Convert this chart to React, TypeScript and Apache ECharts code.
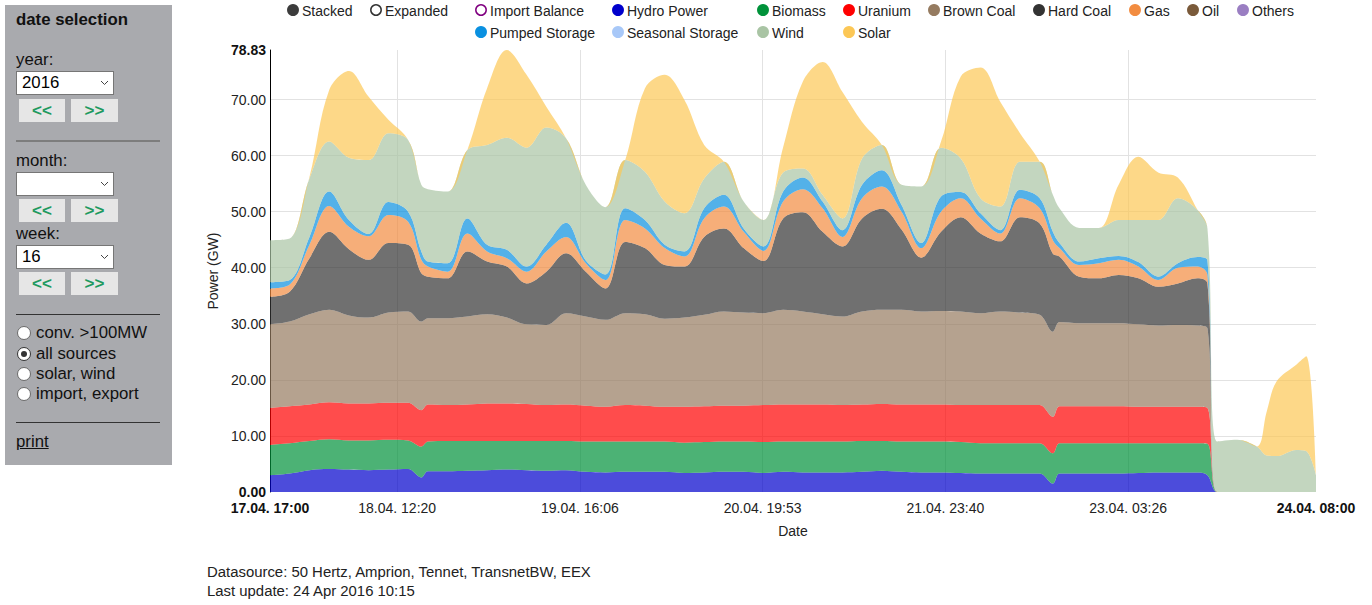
import React, { useEffect, useRef } from "react";
import * as echarts from "echarts";

const FONT = "'Liberation Sans', Arial, Helvetica, sans-serif";

// ---- data (hours after 17.04.2016 17:00) ----
const hours = [0, 3, 6, 9, 12, 15, 18, 21, 23, 24, 27, 30, 33, 36, 39, 42, 45, 48, 51, 54, 57, 60, 63, 66, 69, 72, 75, 78, 81, 84, 87, 90, 93, 96, 99, 102, 105, 108, 111, 114, 117, 119, 120, 123, 126, 129, 132, 135, 138, 141, 142.5, 144, 147, 150, 151.5, 153, 156, 157.5, 159];

const hydro = [3.0, 3.3, 3.9, 4.1, 4.0, 3.9, 4.0, 4.1, 2.6, 3.7, 3.7, 3.8, 3.9, 4.0, 3.9, 3.8, 3.9, 3.6, 3.5, 3.6, 3.6, 3.6, 3.4, 3.5, 3.6, 3.6, 3.4, 3.6, 3.5, 3.5, 3.5, 3.6, 3.8, 3.6, 3.5, 3.5, 3.4, 3.3, 3.3, 3.3, 3.3, 1.5, 3.3, 3.3, 3.3, 3.3, 3.4, 3.5, 3.5, 3.5, 3.0, 0, 0, 0, 0, 0, 0, 0, 0];
const biomass = [5.4, 5.4, 5.2, 5.3, 5.2, 5.3, 5.3, 5.1, 5.5, 5.3, 5.4, 5.3, 5.2, 5.1, 5.2, 5.3, 5.2, 5.4, 5.5, 5.4, 5.4, 5.4, 5.4, 5.4, 5.4, 5.4, 5.5, 5.4, 5.5, 5.5, 5.5, 5.5, 5.3, 5.4, 5.5, 5.5, 5.5, 5.4, 5.4, 5.4, 5.4, 5.4, 5.4, 5.4, 5.4, 5.4, 5.3, 5.2, 5.2, 5.2, 5.6, 0, 0, 0, 0, 0, 0, 0, 0];
const uranium = [6.6, 6.6, 6.5, 6.6, 6.6, 6.6, 6.6, 6.7, 6.5, 6.6, 6.4, 6.5, 6.7, 6.7, 6.6, 6.4, 6.5, 6.4, 6.2, 6.5, 6.4, 6.2, 6.4, 6.4, 6.4, 6.4, 6.6, 6.6, 6.6, 6.6, 6.5, 6.5, 6.6, 6.6, 6.6, 6.6, 6.6, 6.8, 6.8, 6.8, 6.8, 6.5, 6.6, 6.6, 6.6, 6.6, 6.5, 6.5, 6.5, 6.5, 6.4, 0, 0, 0, 0, 0, 0, 0, 0];
const brownCoal = [14.9, 15.1, 16.1, 16.5, 15.7, 15.3, 16.1, 16.3, 15.8, 15.4, 15.5, 15.7, 15.9, 15.3, 14.2, 14.3, 16.3, 15.9, 15.5, 16.4, 16.3, 15.7, 15.9, 16.3, 16.8, 16.6, 16.4, 16.9, 16.6, 16.1, 15.8, 16.6, 16.8, 16.9, 16.6, 16.7, 16.7, 16.4, 16.7, 16.5, 16.1, 15.2, 15.0, 14.8, 14.8, 14.8, 14.7, 14.5, 14.6, 14.5, 14.2, 0, 0, 0, 0, 0, 0, 0, 0];
const hardCoal = [4.9, 5.3, 10.0, 13.9, 11.8, 10.3, 12.4, 11.9, 8.6, 7.4, 7.1, 11.6, 9.4, 9.1, 7.3, 9.5, 10.7, 8.0, 5.6, 12.7, 11.8, 9.6, 9.1, 13.9, 14.8, 11.5, 9.3, 16.3, 17.7, 14.7, 12.5, 16.6, 18.0, 14.3, 9.6, 14.1, 16.8, 14.2, 12.5, 17.0, 16.3, 13.9, 11.7, 8.3, 8.0, 8.6, 8.2, 6.9, 7.4, 8.4, 8.0, 0, 0, 0, 0, 0, 0, 0, 0];
const gas = [1.5, 1.3, 2.4, 4.6, 4.0, 4.2, 5.0, 4.1, 2.4, 1.8, 1.2, 3.2, 1.8, 1.5, 2.1, 3.6, 2.9, 1.5, 1.5, 3.9, 3.5, 3.0, 1.8, 3.3, 3.9, 2.9, 1.8, 3.0, 4.1, 4.2, 1.7, 3.6, 4.0, 3.2, 1.7, 3.6, 3.4, 2.7, 1.4, 3.4, 2.7, 2.4, 1.5, 2.1, 2.7, 2.7, 2.1, 1.2, 2.8, 2.1, 1.5, 0, 0, 0, 0, 0, 0, 0, 0];
const pumpedStorage = [1.1, 0.8, 1.4, 2.6, 1.2, 0.4, 2.3, 1.8, 1.5, 0.9, 1.5, 2.7, 1.2, 1.5, 0.9, 1.2, 2.5, 0.5, 1.0, 2.1, 1.5, 0.6, 0.9, 1.8, 2.1, 0.6, 0.8, 1.8, 2.1, 1.2, 1.2, 2.4, 2.9, 1.2, 0.9, 2.7, 1.1, 0.9, 0.6, 1.5, 1.8, 1.5, 0.9, 0.6, 0.9, 0.7, 0.8, 0.6, 0.8, 1.7, 2.6, 0, 0, 0, 0, 0, 0, 0, 0];
const wind = [7.5, 7.4, 10.4, 8.9, 11.1, 13.2, 12.3, 12.8, 11.9, 12.9, 12.8, 12.2, 17.8, 20.0, 21.2, 20.9, 15.1, 13.5, 12.0, 8.6, 8.6, 7.7, 6.8, 5.3, 5.9, 4.8, 4.7, 3.4, 1.6, 1.2, 2.1, 4.7, 4.5, 3.6, 10.1, 8.7, 6.0, 2.7, 4.2, 5.0, 6.5, 6.6, 6.2, 6.0, 5.4, 6.4, 7.5, 10.1, 11.6, 8.4, 5.7, 9.0, 9.3, 8.1, 6.5, 6.4, 7.5, 7.3, 3.0];
const solar = [0, 0, 0.3, 9.2, 15.5, 11.3, 2.4, 0, 0, 0, 0, 0, 10.1, 15.63, 13.0, 3.7, 0, 0, 0, 0, 14.9, 22.6, 20.2, 6.0, 0, 0, 0, 4.5, 15.5, 23.7, 22.6, 6.5, 0, 0, 0, 1.1, 14.6, 23.3, 18.7, 5.1, 0, 0, 0, 0, 0, 6.3, 11.3, 8.5, 3.7, 0, 0, 0, 0, 0, 7.8, 13.3, 15.2, 16.9, 0];

const xTickHours = [0, 19.333, 47.1, 74.883, 102.667, 130.433, 159];
const xTickLabels = ["17.04. 17:00", "18.04. 12:20", "19.04. 16:06", "20.04. 19:53", "21.04. 23:40", "23.04. 03:26", "24.04. 08:00"];
const yTicks = [0, 10, 20, 30, 40, 50, 60, 70, 78.83];

const T0 = Date.UTC(2016, 3, 17, 17, 0);
const HOUR = 3600 * 1000;
const toTime = (h: number) => T0 + h * HOUR;

// ---- styles ----
const COLORS: Record<string, string> = {
  "Hydro Power": "#0000cc",
  Biomass: "#00923a",
  Uranium: "#ff0000",
  "Brown Coal": "#957b60",
  "Hard Coal": "#333333",
  Gas: "#f28c40",
  Oil: "#7a5a3a",
  Others: "#9a7ec2",
  "Pumped Storage": "#0a90e0",
  "Seasonal Storage": "#a8c8f8",
  Wind: "#a9c4a4",
  Solar: "#fcc756",
};

const seriesDefs: [string, number[]][] = [
  ["Hydro Power", hydro],
  ["Biomass", biomass],
  ["Uranium", uranium],
  ["Brown Coal", brownCoal],
  ["Hard Coal", hardCoal],
  ["Gas", gas],
  ["Pumped Storage", pumpedStorage],
  ["Wind", wind],
  ["Solar", solar],
];

type LegItem = { name: string; cx: number; cy: number; fill: string; stroke: string };
const legendItems: LegItem[] = [
  { name: "Stacked", cx: 293, cy: 10, fill: "#3c3c3c", stroke: "#3c3c3c" },
  { name: "Expanded", cx: 376, cy: 10, fill: "#ffffff", stroke: "#333333" },
  { name: "Import Balance", cx: 481, cy: 10, fill: "#ffffff", stroke: "#800080" },
  ...["Hydro Power", "Biomass", "Uranium", "Brown Coal", "Hard Coal", "Gas", "Oil", "Others"].map((n, i) => ({
    name: n,
    cx: [618, 763, 849, 934, 1039, 1135, 1193, 1243][i],
    cy: 10,
    fill: COLORS[n],
    stroke: COLORS[n],
  })),
  ...["Pumped Storage", "Seasonal Storage", "Wind", "Solar"].map((n, i) => ({
    name: n,
    cx: [481, 618, 763, 849][i],
    cy: 32,
    fill: COLORS[n],
    stroke: COLORS[n],
  })),
];

function nearestIdx(v: number) {
  let idx = 0;
  let best = Infinity;
  xTickHours.forEach((t, i) => {
    const d = Math.abs(t - v);
    if (d < best) {
      best = d;
      idx = i;
    }
  });
  return idx;
}

function Chart() {
  const ref = useRef<HTMLDivElement>(null);
  useEffect(() => {
    if (!ref.current) return;
    const chart = echarts.init(ref.current, undefined, { renderer: "svg" });
    const graphics: any[] = [];
    legendItems.forEach((it) => {
      graphics.push({
        type: "circle",
        silent: true,
        shape: { cx: it.cx, cy: it.cy, r: 5.2 },
        style: { fill: it.fill, stroke: it.stroke, lineWidth: 1.5 },
      });
      graphics.push({
        type: "text",
        silent: true,
        x: it.cx + 9,
        y: it.cy + 0.5,
        style: {
          text: it.name,
          fill: "#222",
          fontSize: 14,
          fontFamily: FONT,
          align: "left",
          verticalAlign: "middle",
        },
      });
    });

    const option: any = {
      animation: false,
      textStyle: { fontFamily: FONT },
      grid: { left: 270, right: 56, top: 50, bottom: 56 },
      graphic: graphics,
      xAxis: [
        {
          // data axis (time), invisible
          type: "time",
          position: "bottom",
          min: toTime(0),
          max: toTime(159),
          axisLine: { show: false },
          axisTick: { show: false },
          axisLabel: { show: false },
          splitLine: { show: false },
        },
        {
          // label / grid axis, in hours after the start
          type: "value",
          position: "bottom",
          min: 0,
          max: 159,
          name: "Date",
          nameLocation: "middle",
          nameGap: 32,
          nameTextStyle: { fontSize: 14, color: "#222", fontFamily: FONT },
          axisLine: { show: false },
          axisTick: { show: false, customValues: xTickHours },
          axisLabel: {
            customValues: xTickHours,
            showMinLabel: true,
            showMaxLabel: true,
            fontSize: 14,
            color: "#222",
            margin: 9,
            fontFamily: FONT,
            formatter: (v: number) => {
              const idx = nearestIdx(v);
              const s = xTickLabels[idx];
              return idx === 0 || idx === xTickLabels.length - 1 ? `{b|${s}}` : s;
            },
            rich: { b: { fontWeight: "bold", fontSize: 14, color: "#111", fontFamily: FONT } },
          },
          splitLine: { show: true, showMinLine: false, showMaxLine: false, lineStyle: { color: "#e2e2e2", width: 1 } },
        },
      ],
      yAxis: {
        type: "value",
        min: 0,
        max: 78.83,
        name: "Power (GW)",
        nameLocation: "middle",
        nameGap: 50,
        nameTextStyle: { fontSize: 14, color: "#222", fontFamily: FONT },
        axisLine: { show: true, lineStyle: { color: "#000", width: 1 } },
        axisTick: { show: false, customValues: yTicks },
        axisLabel: {
          customValues: yTicks,
          showMinLabel: true,
          showMaxLabel: true,
          fontSize: 14,
          color: "#222",
          margin: 4,
          fontFamily: FONT,
          formatter: (v: number) => {
            const s = v.toFixed(2);
            return v === 0 || Math.abs(v - 78.83) < 1e-6 ? `{b|${s}}` : s;
          },
          rich: { b: { fontWeight: "bold", fontSize: 14, color: "#111", fontFamily: FONT } },
        },
        splitLine: { show: true, showMinLine: false, showMaxLine: false, lineStyle: { color: "#e2e2e2", width: 1 } },
      },
      series: seriesDefs.map(([name, vals]) => ({
        name,
        type: "line",
        xAxisIndex: 0,
        stack: "total",
        data: hours.map((h, i) => [toTime(h), vals[i]]),
        smooth: 0.35,
        symbol: "none",
        showSymbol: false,
        silent: true,
        lineStyle: { width: 0, opacity: 0 },
        itemStyle: { color: COLORS[name] },
        areaStyle: { color: COLORS[name], opacity: 0.7 },
        emphasis: { disabled: true },
      })),
    };
    chart.setOption(option);
    return () => chart.dispose();
  }, []);
  return <div ref={ref} style={{ position: "absolute", left: 0, top: 0, width: 1372, height: 548 }} />;
}

const PF = 16.8;

function SelectBox({ top, value }: { top: number; value: string }) {
  return (
    <div
      style={{
        position: "absolute",
        left: 16,
        top,
        width: 98,
        height: 24,
        boxSizing: "border-box",
        background: "#fff",
        border: "1px solid #767676",
        fontSize: PF,
        lineHeight: "22px",
        paddingLeft: 5,
        color: "#000",
      }}
    >
      {value}
      <svg style={{ position: "absolute", left: 83, top: 8 }} width="9" height="6">
        <polyline points="1,1 4.5,4.5 8,1" fill="none" stroke="#444" strokeWidth="1" />
      </svg>
    </div>
  );
}

function Btn({ left, top, width, text }: { left: number; top: number; width: number; text: string }) {
  return (
    <div
      style={{
        position: "absolute",
        left,
        top,
        width,
        height: 23,
        background: "#e6e6e6",
        color: "#1f9a60",
        fontWeight: "bold",
        fontSize: 17,
        lineHeight: "23px",
        textAlign: "center",
      }}
    >
      {text}
    </div>
  );
}

function Radio({ cy, checked, label }: { cy: number; checked?: boolean; label: string }) {
  return (
    <>
      <div
        style={{
          position: "absolute",
          left: 17,
          top: cy - 7,
          width: 14,
          height: 14,
          boxSizing: "border-box",
          borderRadius: "50%",
          border: checked ? "1px solid #333" : "1px solid #6a6a6a",
          background: "#fff",
        }}
      >
        {checked ? (
          <div
            style={{
              position: "absolute",
              left: 3,
              top: 3,
              width: 6,
              height: 6,
              borderRadius: "50%",
              background: "#333",
            }}
          />
        ) : null}
      </div>
      <div style={{ position: "absolute", left: 36, top: cy - 10, lineHeight: "20px", fontSize: PF, color: "#111", whiteSpace: "nowrap" }}>
        {label}
      </div>
    </>
  );
}

function Label({ top, text, bold, underline }: { top: number; text: string; bold?: boolean; underline?: boolean }) {
  return (
    <div
      style={{
        position: "absolute",
        left: 16,
        top: top - 10,
        lineHeight: "20px",
        fontSize: PF,
        fontWeight: bold ? "bold" : "normal",
        textDecoration: underline ? "underline" : "none",
        color: "#111",
        whiteSpace: "nowrap",
      }}
    >
      {text}
    </div>
  );
}

function Rule({ top, thick }: { top: number; thick?: boolean }) {
  return (
    <div
      style={{
        position: "absolute",
        left: 16,
        top,
        width: 144,
        height: thick ? 2 : 1,
        background: thick ? "#7d7d7d" : "#333",
      }}
    />
  );
}

function Panel() {
  return (
    <div
      style={{
        position: "absolute",
        left: 5,
        top: 5,
        width: 167,
        height: 460,
        background: "#a9aaae",
        zIndex: 2,
      }}
    >
      <div style={{ position: "absolute", left: -5, top: -5 }}>
        <Label top={20} text="date selection" bold />
        <Label top={60} text="year:" />
        <SelectBox top={71} value="2016" />
        <Btn left={19} top={99} width={46} text="<<" />
        <Btn left={71} top={99} width={47} text=">>" />
        <Rule top={140} thick />
        <Label top={161} text="month:" />
        <SelectBox top={172} value="" />
        <Btn left={19} top={199} width={46} text="<<" />
        <Btn left={71} top={199} width={47} text=">>" />
        <Label top={234} text="week:" />
        <SelectBox top={245} value="16" />
        <Btn left={19} top={272} width={46} text="<<" />
        <Btn left={71} top={272} width={47} text=">>" />
        <Rule top={314} />
        <Radio cy={333} label="conv. >100MW" />
        <Radio cy={354} checked label="all sources" />
        <Radio cy={374} label="solar, wind" />
        <Radio cy={394} label="import, export" />
        <Rule top={422} />
        <Label top={442} text="print" underline />
      </div>
    </div>
  );
}

export default function App() {
  return (
    <div
      style={{
        position: "absolute",
        left: 0,
        top: 0,
        width: 1372,
        height: 605,
        background: "#fff",
        fontFamily: FONT,
        overflow: "hidden",
      }}
    >
      <Chart />
      <Panel />
      <div
        style={{
          position: "absolute",
          left: 207,
          top: 563,
          fontSize: 14.9,
          lineHeight: "19px",
          color: "#222",
          whiteSpace: "nowrap",
        }}
      >
        <div>Datasource: 50 Hertz, Amprion, Tennet, TransnetBW, EEX</div>
        <div>Last update: 24 Apr 2016 10:15</div>
      </div>
    </div>
  );
}
